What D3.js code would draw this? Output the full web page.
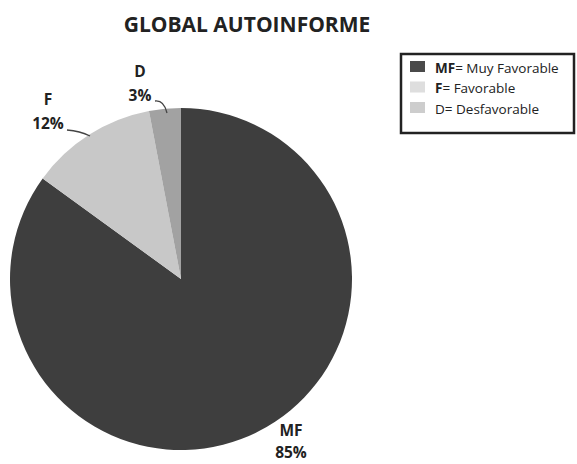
<!DOCTYPE html>
<html><head><meta charset="utf-8">
<script src="https://cdn.jsdelivr.net/npm/d3@7"></script>
<style>body{margin:0;background:#fff}</style>
</head><body>
<svg id="c" width="577" height="464"></svg>
<script>
const categories = ["MF", "F", "D"];
const values = [85, 12, 3];
const legendLabels = [["MF", "= Muy Favorable"], ["F", "= Favorable"], ["D= Desfavorable", ""]];
const colors = ["#3e3e3e", "#c8c8c8", "#a2a2a2"];
const legendColors = ["#4a4a4a", "#dedede", "#cdcdcd"];
const title = "GLOBAL AUTOINFORME";

const svg = d3.select("#c");
const font = "'Open Sans', sans-serif";

svg.append("text").attr("x", 247).attr("y", 32).attr("text-anchor", "middle")
  .attr("font-family", font).attr("font-weight", "bold").attr("font-size", 21)
  .attr("fill", "#222").text(title);

const cx = 181, cy = 279, r = 171;
const pie = d3.pie().sort(null).value(d => d)(values);
const arc = d3.arc().innerRadius(0).outerRadius(r);
const g = svg.append("g").attr("transform", `translate(${cx},${cy})`);
g.selectAll("path").data(pie).join("path").attr("d", arc)
  .attr("fill", (d, i) => colors[i]);

// labels
const labelPos = [[291, 436, 458], [48, 105, 129], [140, 77, 101]];
const lg = svg.append("g").attr("font-family", font).attr("font-weight", "bold")
  .attr("font-size", 15.5).attr("fill", "#222").attr("text-anchor", "middle");
categories.forEach((c, i) => {
  const [x, y1, y2] = labelPos[i];
  lg.append("text").attr("x", x).attr("y", y1).text(c);
  lg.append("text").attr("x", x).attr("y", y2).text(values[i] + "%");
});
// leader lines
const leaders = [
  "M67,130 Q80,131 90,136",
  "M155,101 Q164,100 167,113"
];
leaders.forEach(p => svg.append("path").attr("d", p).attr("fill", "none")
  .attr("stroke", "#444").attr("stroke-width", 1.3));

// legend
svg.append("rect").attr("x", 401).attr("y", 54).attr("width", 173).attr("height", 79)
  .attr("fill", "#fff").attr("stroke", "#222").attr("stroke-width", 2.5);
const legG = svg.append("g").attr("font-family", font).attr("font-size", 13.5).attr("fill", "#222");
categories.forEach((c, i) => {
  const y = 61 + i * 20.5;
  legG.append("rect").attr("x", 410).attr("y", y).attr("width", 15).attr("height", 11)
    .attr("fill", legendColors[i]);
  const t = legG.append("text").attr("x", 435).attr("y", y + 11.5);
  const [a, b] = legendLabels[i];
  if (b) {
    t.append("tspan").attr("font-weight", "bold").text(a);
    t.append("tspan").text(b);
  } else {
    t.text(a);
  }
});
</script>
</body></html>
